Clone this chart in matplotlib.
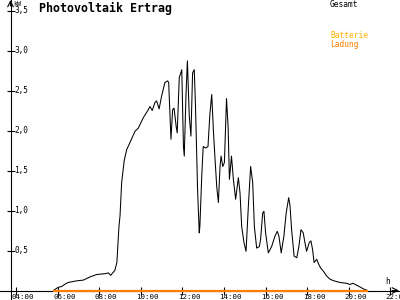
import matplotlib
matplotlib.use("Agg")
import matplotlib.pyplot as plt
from matplotlib.transforms import blended_transform_factory

# ---- data ----
gesamt_t = [5.8, 6.03, 6.2, 6.36, 6.5, 6.9, 7.24, 7.56, 7.88, 8.28, 8.44, 8.55, 8.75, 8.85,
            8.95, 9.0, 9.08, 9.2, 9.32, 9.48, 9.72, 9.88, 10.12, 10.36, 10.44, 10.55, 10.68,
            10.76, 10.88, 11.0, 11.16, 11.29, 11.34, 11.45, 11.53, 11.6, 11.7, 11.75, 11.85,
            11.97, 12.05, 12.09, 12.17, 12.24, 12.33, 12.41, 12.49, 12.57, 12.63, 12.73, 12.81,
            12.84, 12.93, 13.0, 13.12, 13.23, 13.32, 13.41, 13.49, 13.57, 13.65, 13.73, 13.81,
            13.86, 13.94, 14.02, 14.12, 14.2, 14.26, 14.36, 14.45, 14.56, 14.69, 14.77, 14.85,
            14.96, 15.06, 15.17, 15.28, 15.38, 15.46, 15.57, 15.7, 15.76, 15.86, 15.92, 16.0,
            16.13, 16.29, 16.45, 16.56, 16.64, 16.75, 16.88, 16.99, 17.11, 17.17, 17.25, 17.37,
            17.5, 17.6, 17.7, 17.81, 17.89, 17.97, 18.1, 18.18, 18.26, 18.33, 18.46, 18.55,
            18.65, 18.78, 18.94, 19.1, 19.3, 19.58, 19.9, 20.05, 20.2, 20.5, 20.7, 20.9]
gesamt_v = [0.0, 0.04, 0.05, 0.08, 0.1, 0.12, 0.13, 0.17, 0.2, 0.21, 0.22, 0.19, 0.25, 0.35,
            0.8, 0.93, 1.35, 1.62, 1.76, 1.85, 1.99, 2.03, 2.16, 2.26, 2.3, 2.25, 2.35,
            2.37, 2.27, 2.43, 2.6, 2.62, 2.6, 1.89, 2.26, 2.28, 2.05, 1.97, 2.66,
            2.76, 1.8, 1.68, 2.43, 2.87, 2.18, 1.93, 2.72, 2.76, 2.3, 1.26, 0.72,
            0.8, 1.43, 1.8, 1.78, 1.8, 2.2, 2.45, 2.0, 1.64, 1.3, 1.1, 1.55,
            1.68, 1.55, 1.6, 2.4, 2.03, 1.39, 1.68, 1.39, 1.14, 1.41, 1.22, 0.8,
            0.6, 0.49, 1.05, 1.55, 1.35, 0.8, 0.53, 0.55, 0.64, 0.97, 0.99, 0.72,
            0.47, 0.55, 0.68, 0.74, 0.68, 0.47, 0.68, 0.97, 1.16, 1.07, 0.76, 0.43,
            0.41, 0.55, 0.76, 0.72, 0.6, 0.49, 0.6, 0.62, 0.51, 0.35, 0.39, 0.33,
            0.28, 0.24, 0.18, 0.14, 0.12, 0.1, 0.09, 0.075, 0.09, 0.05, 0.02, 0.0]
ladung_t = [5.8, 20.9]
ladung_v = [0.0, 0.0]
x_ticks = [4, 6, 8, 10, 12, 14, 16, 18, 20, 22]
x_labels = ["04:00", "06:00", "08:00", "10:00", "12:00", "14:00", "16:00", "18:00", "20:00", "22:00"]
y_ticks = [0.5, 1.0, 1.5, 2.0, 2.5, 3.0, 3.5]
y_labels = ["0,5", "1,0", "1,5", "2,0", "2,5", "3,0", "3,5"]
title = "Photovoltaik Ertrag"
legend_names = ["Gesamt", "Batterie", "Ladung"]
legend_colors = ["black", "#FFB000", "#FF8000"]

# ---- layout (pixels) ----
W, H = 400, 300
X4, PXH = 16.0, 20.8      # pixel of 04:00, pixels per hour
Y0, PXK = 290.5, 80.0     # pixel of 0 kW, pixels per kW

def px2t(px):
    return 4 + (px - X4) / PXH

def py2v(py):
    return (Y0 - py) / PXK

fig = plt.figure(figsize=(4, 3), dpi=100)
ax = fig.add_axes([0, 0, 1, 1])
ax.set_xlim(px2t(0), px2t(W))
ax.set_ylim(py2v(H), py2v(0))
ax.patch.set_alpha(0)
fig.patch.set_facecolor("white")

mono = "DejaVu Sans Mono"
axis_x = px2t(10.5)

for s in ["top", "right"]:
    ax.spines[s].set_visible(False)
ax.spines["left"].set_position(("data", axis_x))
ax.spines["bottom"].set_position(("data", 0))
for s in ["left", "bottom"]:
    ax.spines[s].set_linewidth(0.8)
ax.set_xticks(x_ticks)
ax.set_yticks(y_ticks)
ax.tick_params(direction="inout", length=6, width=0.8, labelbottom=False, labelleft=False)

# arrow heads
ax.annotate("", xy=(axis_x, py2v(0)), xytext=(axis_x, py2v(6)),
            arrowprops=dict(arrowstyle="->", lw=0.8, color="black", shrinkA=0, shrinkB=0),
            annotation_clip=False)
ax.annotate("", xy=(px2t(399), 0), xytext=(px2t(392), 0),
            arrowprops=dict(arrowstyle="->", lw=0.8, color="black", shrinkA=0, shrinkB=0),
            annotation_clip=False)

# series
ax.plot(gesamt_t, gesamt_v, color="black", lw=0.75, zorder=3)
ax.plot(ladung_t, ladung_v, color=legend_colors[2], lw=1.6, zorder=4, solid_capstyle="butt")

# tick labels
trx = blended_transform_factory(ax.transData, ax.transAxes)
for t, lab in zip(x_ticks, x_labels):
    ax.text(t - 4.5 / PXH, 1 - 299.8 / H, lab, transform=trx, ha="left", va="bottom",
            fontsize=5.4, family=mono, clip_on=False)
try_ = blended_transform_factory(ax.transAxes, ax.transData)
for v, lab in zip(y_ticks, y_labels):
    ax.text(14.5 / W, v, lab, transform=try_, ha="left", va="center",
            fontsize=5.6, family=mono)

def fx(px):
    return px / W

def fy(py):
    return 1 - py / H

ax.text(fx(13), fy(3.5), "kW", transform=ax.transAxes, ha="left", va="center",
        fontsize=4.8, family=mono)
ax.text(fx(385), fy(282), "h", transform=ax.transAxes, ha="left", va="center",
        fontsize=5.6, family=mono)
ax.text(fx(39), fy(8), title, transform=ax.transAxes, ha="left", va="center",
        fontsize=8.4, family=mono, weight="bold")
for name, col, py in zip(legend_names, legend_colors, [4.5, 36, 44]):
    ax.text(fx(330), fy(py), name, transform=ax.transAxes, ha="left", va="center",
            fontsize=5.7, family=mono, color=col)

fig.savefig("out.png", dpi=100)
